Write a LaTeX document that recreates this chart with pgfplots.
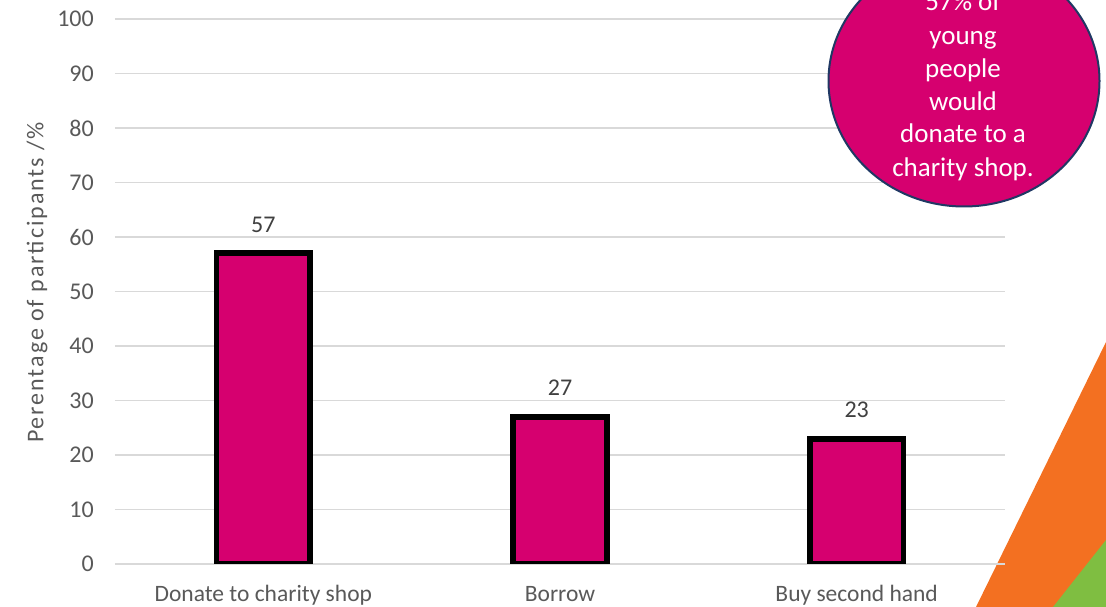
\documentclass[border=0pt]{standalone}
\usepackage{pgfplots}
\pgfplotsset{compat=1.18}
\usepackage{fontspec}
\setmainfont{Carlito}
\newfontfamily\spacedfont[LetterSpace=8]{Carlito}
\definecolor{magentabar}{HTML}{D6006F}
\definecolor{navy}{HTML}{203864}
\definecolor{txtgray}{HTML}{595959}
\definecolor{lblgray}{HTML}{404040}
\definecolor{gridgray}{HTML}{D9D9D9}
\definecolor{orangetri}{HTML}{F37021}
\definecolor{greentri}{HTML}{7FBE41}
\begin{document}
\begin{tikzpicture}
\path[use as bounding box] (0pt,0pt) rectangle (1106pt,607pt);
\clip (0pt,0pt) rectangle (1106pt,607pt);
\fill[orangetri] (976pt,0pt) -- (1106pt,265pt) -- (1106pt,0pt) -- cycle;
\fill[greentri] (1053pt,0pt) -- (1106pt,67pt) -- (1106pt,0pt) -- cycle;
\begin{axis}[
  at={(115pt,43pt)}, anchor=south west, scale only axis,
  width=890pt, height=545pt,
  xmin=-0.5, xmax=2.5, ymin=0, ymax=100,
  ytick={0,10,...,100},
  xtick={0,1,2},
  xticklabels={Donate to charity shop, Borrow, Buy second hand},
  ymajorgrids, grid style={gridgray, line width=1.5pt},
  axis line style={draw=none},
  major tick length=0pt,
  tick label style={text=txtgray},
  /pgf/number format/assume math mode=true,
  yticklabel style={anchor=east, inner sep=0pt, xshift=-21pt, font=\fontsize{24}{28}\selectfont},
  xticklabel style={anchor=base, inner sep=0pt, yshift=-38pt, font=\fontsize{23.5}{28}\selectfont},
  ylabel={Perentage of participants /\%},
  ylabel style={at={(axis description cs:-0.0876,0.5165)}, anchor=center, font=\spacedfont\fontsize{24}{28}\selectfont, text=txtgray},
  ybar,
]
\addplot[ybar, bar width=93.5pt, fill=magentabar, draw=black, line width=5.8pt,
  nodes near coords,
  every node near coord/.append style={anchor=south, inner sep=0pt, yshift=18pt, text=lblgray, font=\fontsize{24}{28}\selectfont}]
  coordinates {(0,57) (1,27) (2,23)};
\end{axis}
\draw[navy, line width=2pt, fill=magentabar] (964pt,526pt) ellipse [x radius=135.5pt, y radius=125.5pt];
\begin{scope}[every node/.style={anchor=base, text=white, font=\fontsize{27}{33}\selectfont, inner sep=0pt}]
\node at (963pt,596pt) {57\% of};
\node at (963pt,562pt) {young};
\node at (963pt,529pt) {people};
\node at (963pt,496pt) {would};
\node at (963pt,464pt) {donate to a};
\node at (963pt,430pt) {charity shop.};
\end{scope}
\end{tikzpicture}
\end{document}
